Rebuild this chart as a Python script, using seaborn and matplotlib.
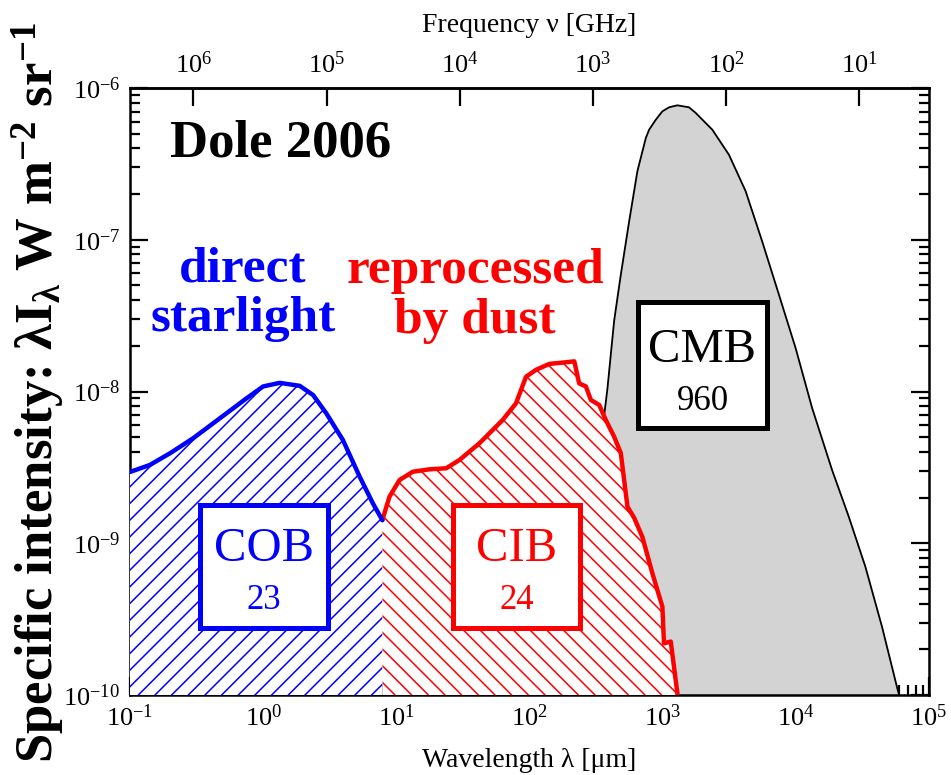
import numpy as np
import pandas as pd
import matplotlib
matplotlib.use("Agg")
import matplotlib.pyplot as plt
import seaborn as sns
from matplotlib.patches import Rectangle
from matplotlib.ticker import FixedLocator, NullLocator, LogLocator, LogFormatterSciNotation

# ---------------- data ----------------
cob_wavelength = [0.1, 0.141, 0.2, 0.298, 0.473, 0.75, 1.0, 1.33, 1.88, 2.37,
                  2.98, 3.97, 5.30, 6.67, 7.85]
cob_intensity = [2.95e-9, 3.28e-9, 3.92e-9, 4.92e-9, 6.66e-9, 9.02e-9, 1.08e-8,
                 1.14e-8, 1.09e-8, 9.48e-9, 7.18e-9, 4.79e-9, 2.75e-9, 1.83e-9, 1.42e-9]

cib_wavelength = [7.85, 8.89, 10.57, 13.3, 17.7, 23.7, 29.8, 42.1, 62.9, 79.2, 94.1,
                  112, 141, 177, 217, 236, 265, 289, 334, 374, 432, 485, 544, 611,
                  704, 837, 995, 1023, 1150, 1289, 1320]
cib_intensity = [1.42e-9, 2.03e-9, 2.61e-9, 2.96e-9, 3.07e-9, 3.12e-9, 3.54e-9,
                 4.56e-9, 6.49e-9, 8.36e-9, 1.25e-8, 1.39e-8, 1.52e-8, 1.55e-8,
                 1.58e-8, 1.13e-8, 1.08e-8, 8.79e-9, 8.15e-9, 6.49e-9, 5.04e-9,
                 3.92e-9, 1.74e-9, 1.47e-9, 1.10e-9, 6.34e-10, 3.82e-10, 2.19e-10,
                 2.25e-10, 1.03e-10, 8.0e-11]

cmb_wavelength = [260, 300, 364, 385, 432, 485, 560, 646, 747, 791, 888, 995, 1117,
                  1289, 1578, 1771, 2360, 3147, 4198, 5585, 7464, 9950, 13250, 18710,
                  24950, 33290, 44360, 58210, 70000]
cmb_intensity = [3e-11, 4e-10, 7.0e-9, 1.05e-8, 2.92e-8, 5.89e-8, 1.32e-7, 2.83e-7,
                 4.68e-7, 5.31e-7, 6.18e-7, 7.02e-7, 7.46e-7, 7.69e-7, 7.46e-7,
                 6.85e-7, 5.31e-7, 3.63e-7, 2.09e-7, 9.77e-8, 4.35e-8, 1.94e-8,
                 7.79e-9, 3.04e-9, 1.50e-9, 7.0e-10, 2.82e-10, 1.08e-10, 6.2e-11]

box_names = ["COB", "CIB", "CMB"]
box_values = ["23", "24", "960"]

x_ticks = [1e-1, 1e0, 1e1, 1e2, 1e3, 1e4, 1e5]
freq_ticks = [1e1, 1e2, 1e3, 1e4, 1e5, 1e6]

cob = pd.DataFrame({"wavelength": cob_wavelength, "intensity": cob_intensity})
cib = pd.DataFrame({"wavelength": cib_wavelength, "intensity": cib_intensity})
cmb = pd.DataFrame({"wavelength": cmb_wavelength, "intensity": cmb_intensity})

# ---------------- style ----------------
sns.set_theme(style="ticks")
plt.rcParams['font.family'] = ['Liberation Serif', 'DejaVu Serif']
plt.rcParams['mathtext.fontset'] = 'custom'
plt.rcParams['mathtext.rm'] = 'Liberation Serif'
plt.rcParams['mathtext.it'] = 'Liberation Serif:italic'
plt.rcParams['mathtext.bf'] = 'Liberation Serif:bold'
plt.rcParams['hatch.linewidth'] = 1.1
plt.rcParams['axes.linewidth'] = 1.8
for k in ['text.color', 'axes.labelcolor', 'xtick.color', 'ytick.color',
          'xtick.labelcolor', 'ytick.labelcolor', 'axes.edgecolor']:
    plt.rcParams[k] = 'black'

fig = plt.figure(figsize=(9.51, 7.75), dpi=100)
ax = fig.add_axes([130 / 951, 1 - 695 / 775, 799 / 951, 607 / 775])
ax.set_xscale('log')
ax.set_yscale('log')

BASE = 1e-12
# CMB
ax.fill_between(cmb["wavelength"], cmb["intensity"], BASE, color='#d3d3d3', lw=0, zorder=1)
sns.lineplot(data=cmb, x="wavelength", y="intensity", color='black', lw=1.3,
             ax=ax, zorder=2, estimator=None, sort=False)
# CIB
ax.fill_between(cib["wavelength"], cib["intensity"], BASE, facecolor='white',
                edgecolor='#ff0000', hatch='\\\\', lw=0, zorder=3)
# COB
ax.fill_between(cob["wavelength"], cob["intensity"], BASE, facecolor='white',
                edgecolor='#0000ff', hatch='//', lw=0, zorder=3)
sns.lineplot(data=cib, x="wavelength", y="intensity", color='#ff0000', lw=3.2,
             ax=ax, zorder=4, estimator=None, sort=False)
sns.lineplot(data=cob, x="wavelength", y="intensity", color='#0000ff', lw=3.2,
             ax=ax, zorder=4, estimator=None, sort=False)

ax.set_xlim(0.1, 1e5)
ax.set_ylim(1e-10, 1e-6)

# ticks
ax.xaxis.set_major_locator(FixedLocator(x_ticks))
ax.xaxis.set_major_formatter(LogFormatterSciNotation())
ax.xaxis.set_minor_locator(LogLocator(base=10, subs=np.arange(2, 10)))
ax.yaxis.set_major_locator(LogLocator(base=10))
ax.yaxis.set_minor_locator(LogLocator(base=10, subs=np.arange(2, 10)))
ax.tick_params(which='both', direction='in', top=False, right=True, colors='black',
               width=1.6, labelsize=19)
ax.tick_params(which='major', length=13, pad=7)
ax.tick_params(which='minor', length=7)

ax.set_xlabel("Wavelength λ [μm]", fontsize=20, labelpad=12)
ax.set_ylabel("")

# secondary frequency axis
sec = ax.secondary_xaxis('top', functions=(lambda l: 2.998e5 / np.asarray(l),
                                           lambda n: 2.998e5 / np.asarray(n)))
sec.xaxis.set_major_locator(FixedLocator(freq_ticks))
sec.xaxis.set_major_formatter(LogFormatterSciNotation())
sec.xaxis.set_minor_locator(NullLocator())
sec.tick_params(which='major', direction='in', length=13, width=1.6, labelsize=19,
                pad=7, colors='black')
sec.set_xlabel("Frequency ν [GHz]", fontsize=20, labelpad=14)

# y label (placed explicitly; it fills the figure height in the reference)
ylab = fig.text(38 / 951, 0.4935,
                r"Specific intensity: λI$_{\mathbf{λ}}$ W m$^{\mathbf{-2}}$ sr$^{\mathbf{-1}}$",
                rotation=90, fontsize=38, fontweight='bold', color='black',
                ha='center', va='center')

# texts
ax.text(0.05, 0.909, "Dole 2006", transform=ax.transAxes, fontsize=38,
        fontweight='bold', color='black', ha='left', va='center', zorder=6)
ax.text(0.1414, 0.66, "direct\nstarlight", transform=ax.transAxes, fontsize=37,
        fontweight='bold', color='#0000ff', ha='center', va='center',
        linespacing=1.1, zorder=6)
ax.text(0.432, 0.657, "reprocessed\nby dust", transform=ax.transAxes, fontsize=37,
        fontweight='bold', color='#ff0000', ha='center', va='center',
        linespacing=1.1, zorder=6)

# boxes: (x0, y0, x1, y1, name_y, value_y, color)
boxes = [
    (0.0876, 0.110, 0.2478, 0.313, 0.240, 0.156, '#0000ff'),
    (0.404, 0.110, 0.563, 0.313, 0.240, 0.156, '#ff0000'),
    (0.636, 0.440, 0.797, 0.647, 0.568, 0.483, 'black'),
]
for (x0, y0, x1, y1, ny, vy, col), name, val in zip(boxes, box_names, box_values):
    ax.add_patch(Rectangle((x0, y0), x1 - x0, y1 - y0, transform=ax.transAxes,
                           facecolor='white', edgecolor=col, lw=3.6, zorder=5))
    cx = (x0 + x1) / 2
    ax.text(cx, ny, name, transform=ax.transAxes, fontsize=35, color=col,
            ha='center', va='center', zorder=6)
    ax.text(cx, vy, val, transform=ax.transAxes, fontsize=25, color=col,
            ha='center', va='center', zorder=6)

# shrink the y label if it would not fit in ~745 px
fig.canvas.draw()
h = ylab.get_window_extent(renderer=fig.canvas.get_renderer()).height
if h > 745:
    ylab.set_fontsize(38 * 745 / h)

fig.savefig("out.png", dpi=100)
